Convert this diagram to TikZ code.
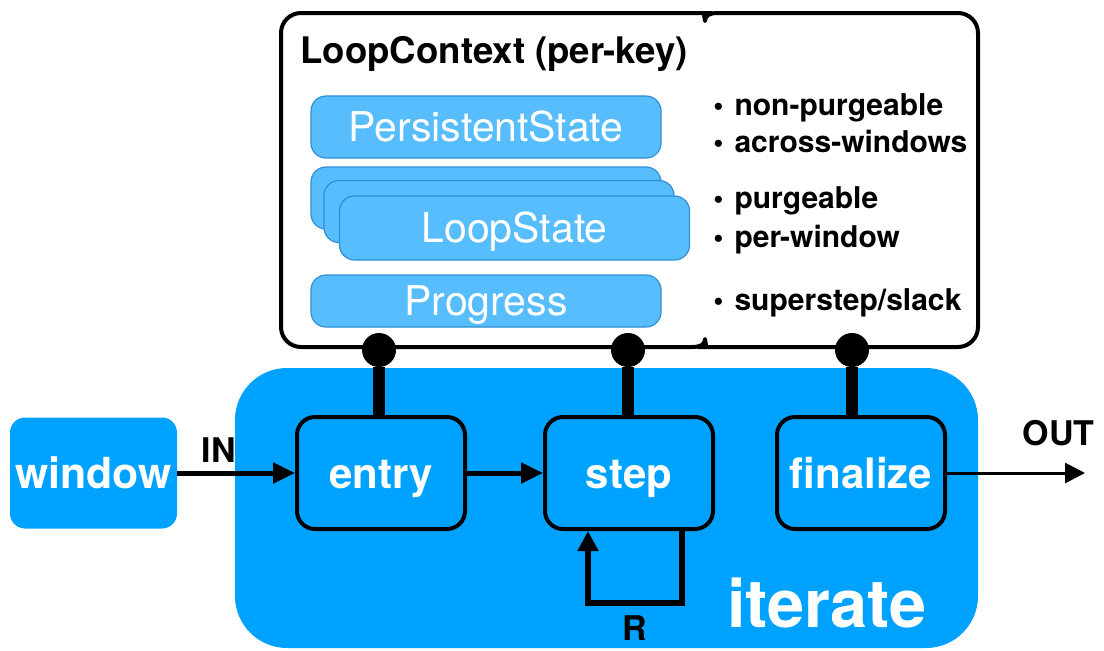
\documentclass[tikz,border=0pt]{standalone}
\usepackage{fontspec}
\setmainfont{TeX Gyre Heros}
\usetikzlibrary{positioning,arrows.meta}
\definecolor{iterblue}{HTML}{00A2FF}
\definecolor{stateblue}{HTML}{58BDFD}
\definecolor{stateedge}{HTML}{2D8FD5}
\newcommand{\notedot}{{\fontsize{14.5}{18}\selectfont •}\hspace{5.5pt}}

\begin{document}
\begin{tikzpicture}[
	x=0.5pt, y=-0.5pt,
	ctxbox/.style={line width=2pt, draw=black, line join=round},
	state/.style={rectangle, rounded corners=7.5pt, draw=stateedge, line width=0.6pt, fill=stateblue, text=white, minimum width=175pt, minimum height=31pt, inner sep=0pt, text height=15pt, text depth=1pt, font=\fontsize{20.5}{24}\selectfont},
	op/.style={rectangle, rounded corners=9pt, draw=black, line width=2pt, fill=iterblue, text=white, minimum width=84pt, minimum height=56pt, inner sep=0pt, text height=16pt, text depth=1pt, font=\fontsize{21}{25}\selectfont\bfseries},
	note/.style={anchor=base west, inner sep=0pt, font=\fontsize{15}{18}\selectfont\bfseries},
	tag/.style={font=\fontsize{17}{20}\selectfont\bfseries, inner sep=0pt},
	joint/.style={circle, fill=black, minimum size=17pt, inner sep=0pt},
	bar/.style={line width=6pt, draw=black},
	flow/.style={-{Triangle[length=11pt,width=10pt]}, line width=2.5pt},
	outflow/.style={-{Triangle[length=10pt,width=10pt]}, line width=1.5pt},
	rloop/.style={-{Triangle[length=10pt,width=10pt]}, line width=3pt}
]
\useasboundingbox (0,0) rectangle (1104,650);

% iterate operator
\node (iterbox) [rectangle, rounded corners=26pt, fill=iterblue, minimum width=371.5pt, minimum height=140pt] at (606.5,508) {};
\node (itertext) [anchor=base, inner sep=0pt, text=white, font=\fontsize{33.3}{38}\selectfont\bfseries] at (827,627) {iterate};

\node (window) [rectangle, rounded corners=7.5pt, fill=iterblue, text=white, minimum width=83.5pt, minimum height=55.5pt, inner sep=0pt, text height=16pt, text depth=1pt, font=\fontsize{21.4}{25}\selectfont\bfseries] at (93.5,473) {window};
\node (entry) [op] at (381,473) {entry};
\node (step) [op] at (629,473) {step};
\node (finalize) [op] at (861,473) {finalize};
\coordinate (outend) at (1085,473);

\draw [flow] (window) -- node[pos=0.35, above=4pt, tag] {IN} (entry);
\draw [flow] (entry) -- (step);
\draw [outflow] (finalize) -- node[pos=0.81, above=13pt, tag] {OUT} (outend);
\draw [rloop] ([xshift=-16.5pt]step.south east) -- ++(0,72) -| node[pos=0.25, below=5pt, tag] {R} ([xshift=22.5pt]step.south west);

% loop context
\draw [ctxbox] (705,21) .. controls (705,15) and (710,13) .. (718,13) [rounded corners=10pt] -- (978,13) -- (978,347) -- (718,347) [sharp corners] .. controls (710,347) and (705,345) .. (705,339) .. controls (705,345) and (700,347) .. (692,347) [rounded corners=10pt] -- (281,347) -- (281,13) -- (692,13) [sharp corners] .. controls (700,13) and (705,15) .. (705,21) -- cycle;
\node (ctxtitle) [anchor=base west, inner sep=0pt, font=\fontsize{18.3}{22}\selectfont\bfseries] at (300,63) {LoopContext (per-key)};

\node (persist) [state] at (486,127) {PersistentState};
\node (lsback) [state] at (486,198) {};
\node (lsmid) [state] at ([shift={(13,13.5)}]lsback) {};
\node (lsfront) [state, minimum height=32pt] at ([shift={(15.5,16.5)}]lsmid) {LoopState};
\node (progress) [state, minimum height=26pt] at (486,301) {Progress};

\node (npurge) [note] at (713,115) {\notedot non-purgeable};
\node (nacross) [note] at (713,152) {\notedot across-windows};
\node (purge) [note] at (713,208) {\notedot purgeable};
\node (perwin) [note] at (713,247) {\notedot per-window};
\node (slack) [note] at (713,310) {\notedot superstep/slack};

% state access
\node (jentry) [joint] at (379,350) {};
\node (jstep) [joint] at (628,350) {};
\node (jfinal) [joint] at (852,350) {};
\draw [bar] (jentry) -- (jentry |- entry.north);
\draw [bar] (jstep) -- (jstep |- step.north);
\draw [bar] (jfinal) -- (jfinal |- finalize.north);
\end{tikzpicture}
\end{document}
